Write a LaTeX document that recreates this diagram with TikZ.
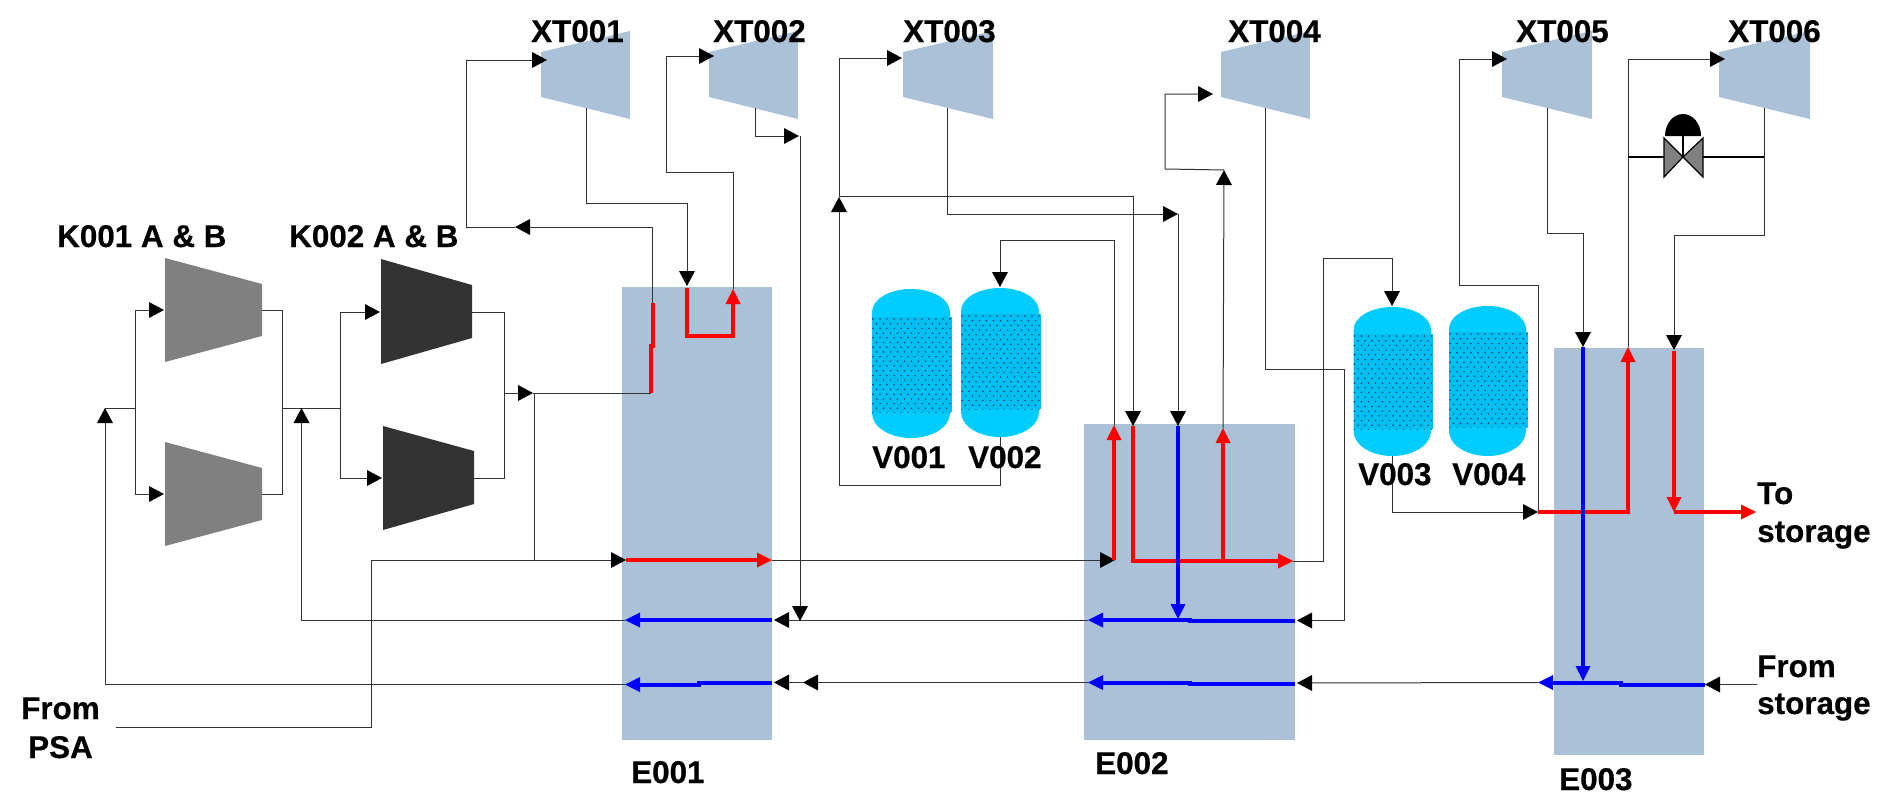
\documentclass[tikz,border=0pt]{standalone}
\usepackage{fontspec}
\setmainfont{Liberation Sans}[BoldFeatures={FakeBold=0.5}]
\usetikzlibrary{arrows.meta}
\definecolor{boxc}{HTML}{ABC1D7}
\definecolor{tankc}{HTML}{00CCFF}
\definecolor{dotbg}{HTML}{00BFF2}
\definecolor{dotc}{HTML}{00405F}
\definecolor{gc}{HTML}{808080}
\definecolor{dc}{HTML}{333333}
\definecolor{pipec}{HTML}{333333}
\definecolor{hot}{HTML}{FF0000}
\definecolor{cold}{HTML}{0000FF}
\tikzset{
  bk/.tip={Triangle[length=15pt,width=16pt,line width=0pt,fill=black,color=black]},
  ct/.tip={Triangle[length=15pt,width=15pt,line width=0pt]},
  pipe/.style={draw=pipec,line width=1pt},
  hotline/.style={draw=hot,line width=4pt,miter limit=3},
  coldline/.style={draw=cold,line width=4pt,miter limit=3},
  lbl/.style={font=\fontsize{31.4}{31.4}\selectfont\bfseries,inner sep=0pt,anchor=base west,text=black},
  hx/.style={fill=boxc,draw=none},
}
% name, x left, x right, y left top, y right top, y right bottom, y left bottom, colour
\newcommand\machine[8]{%
  \fill[#8] (#2,#4) -- (#3,#5) -- (#3,#6) -- (#2,#7) -- cycle;
}
% name, x left, x right, y top, y bottom, dots top, dots bottom
\newcommand\vessel[7]{%
  \pgfmathsetmacro\vr{(#3-#2)/2}%
  \pgfmathsetmacro\vt{#4+23}%
  \pgfmathsetmacro\vb{#5-25}%
  \fill[tankc] (#2,\vt) arc[start angle=180,end angle=0,x radius=\vr pt,y radius=23pt]
     -- (#3,\vb) arc[start angle=0,end angle=-180,x radius=\vr pt,y radius=25pt] -- cycle;
  \begin{scope}
    \clip (#2,#6) rectangle (#3+2,#7);
    \fill[dotbg] (#2,#6) rectangle (#3+2,#7);
    \foreach \r in {0,...,21}{%
      \pgfmathsetmacro\dy{#6+2+\r*4.7}%
      \pgfmathsetmacro\off{mod(\r,2)*3.5}%
      \foreach \c in {0,...,12}{%
        \fill[dotc] ({#2+1+\off+\c*7},\dy) circle (0.85pt);
      }
    }
  \end{scope}
}
\begin{document}
\begin{tikzpicture}[x=1pt,y=-1pt]
\useasboundingbox (0,0) rectangle (1882,795);
% heat exchangers
\fill[hx] (622,287) rectangle (772,740);
\fill[hx] (1084,424) rectangle (1295,740);
\fill[hx] (1554,348) rectangle (1704,755);
\coordinate (E1hotin) at (626,560);
\coordinate (E1hotout) at (772,560);
\coordinate (E1c1in) at (774,620);
\coordinate (E1c1out) at (625,620);
\coordinate (E1c2in) at (774,682.5);
\coordinate (E1c2out) at (625,684.5);
\coordinate (E2hot1in) at (1115,560);
\coordinate (E2hot1out) at (1114,425);
\coordinate (E2hot2in) at (1133,426);
\coordinate (E2hot2out) at (1293,561);
\coordinate (E2hot3out) at (1223,428);
\coordinate (E2cin) at (1178,426);
\coordinate (E2c1in) at (1297,620.5);
\coordinate (E2c1out) at (1088,620);
\coordinate (E2c2in) at (1297,683);
\coordinate (E2c2out) at (1088,682.5);
\coordinate (E3hot1in) at (1538,512);
\coordinate (E3hot1out) at (1628,347);
\coordinate (E3hot2in) at (1674,351);
\coordinate (E3cin) at (1583,347);
\coordinate (E3c2in) at (1705,684.5);
\coordinate (E3c2out) at (1538,682.5);
% machines
\machine{K1A}{165}{262}{258}{284}{336}{362}{gc}
\machine{K1B}{165}{262}{442}{468}{520}{546}{gc}
\machine{K2A}{381}{472}{259}{285}{338}{364}{dc}
\machine{K2B}{383}{474}{426}{451}{504}{530}{dc}
\machine{XT1}{541}{630}{52}{31}{119}{97}{boxc}
\machine{XT2}{709}{798}{52}{31}{119}{97}{boxc}
\machine{XT3}{903}{993}{52}{31}{119}{97}{boxc}
\machine{XT4}{1221}{1310}{52}{31}{119}{97}{boxc}
\machine{XT5}{1502}{1592}{52}{31}{119}{97}{boxc}
\machine{XT6}{1719}{1810}{52}{31}{119}{97}{boxc}
\coordinate (K1Ain) at (164,310); \coordinate (K1Bin) at (164,494);
\coordinate (K1Aout) at (262,310); \coordinate (K1Bout) at (262,494);
\coordinate (K2Ain) at (380,312); \coordinate (K2Bin) at (382,478);
\coordinate (K2Aout) at (472,312); \coordinate (K2Bout) at (474,478);
\coordinate (XT1in) at (547,60); \coordinate (XT1out) at (586,108);
\coordinate (XT2in) at (714,56); \coordinate (XT2out) at (755,108);
\coordinate (XT3in) at (902,58); \coordinate (XT3out) at (947,108);
\coordinate (XT4in) at (1213,94); \coordinate (XT4out) at (1265,108);
\coordinate (XT5in) at (1507,59); \coordinate (XT5out) at (1547,108);
\coordinate (XT6in) at (1725,59); \coordinate (XT6out) at (1764,108);
% vessels
\vessel{V1}{872}{950}{289}{438}{317}{412}
\vessel{V2}{961}{1039}{288}{437}{314}{409}
\vessel{V3}{1353.5}{1431}{307}{456}{334}{429}
\vessel{V4}{1449}{1526}{306}{456}{332}{427}
\coordinate (V2top) at (1000,287); \coordinate (V2bot) at (1000,437);
\coordinate (V3top) at (1392,306); \coordinate (V3bot) at (1392,456);
% junctions
\coordinate (JK1in) at (135,408);
\coordinate (JK1out) at (282,408);
\coordinate (JK2in) at (340.5,408);
\coordinate (JK2out) at (504,393);
\coordinate (J1) at (533,393);
\coordinate (J2) at (534,560);
\coordinate (R1) at (105,408);
\coordinate (R2) at (301.5,408);
\coordinate (PSA) at (116,727);
\coordinate (J3) at (839,197);
\coordinate (J4) at (1178,214);
\coordinate (J5) at (1224,170);
\coordinate (J6) at (515,227);
\coordinate (J7) at (799,136);
\coordinate (J8) at (803,682.5);
\coordinate (Sto) at (1756,512);
\coordinate (Sfrom) at (1757,684.5);
% --- utility lines
\draw[pipe,-{bk}] (JK1in) |- (K1Ain);
\draw[pipe,-{bk}] (JK1in) |- (K1Bin);
\draw[pipe] (K1Aout) -| (JK1out);
\draw[pipe] (K1Bout) -| (JK1out);
\draw[pipe] (R1) -- (JK1in);
\draw[pipe] (JK1out) -- (JK2in);
\draw[pipe,-{bk}] (JK2in) |- (K2Ain);
\draw[pipe,-{bk}] (JK2in) |- (K2Bin);
\draw[pipe] (K2Aout) -| (JK2out);
\draw[pipe] (K2Bout) -| (JK2out);
\draw[pipe,-{bk}] (JK2out) -- (J1);
\draw[pipe] (J1) -- (651,393);
\draw[pipe] (534,393) -- (J2);
\draw[pipe,-{bk}] (PSA) -| (371,560) -- (E1hotin);
\draw[pipe,-{bk}] (E1hotout) -- (E2hot1in);
\draw[pipe,-{bk}] (E1c1out) -| (R2);
\draw[pipe,-{bk}] (E1c2out) -| (R1);
\draw[pipe,-{bk}] (E2c1out) -- (E1c1in);
\draw[pipe,-{bk}] (E2c2out) -- (J8);
\draw[pipe,-{bk}] (J8) -- (E1c2in);
\draw[pipe,-{bk}] (XT2out) |- (J7);
\draw[pipe,-{bk}] (800,136) -- (800,621);
% XT001
\draw[pipe,-{bk}] (652.5,303) |- (J6);
\draw[pipe,-{bk}] (J6) -- (466,227) |- (XT1in);
\draw[pipe,-{bk}] (XT1out) |- (687,203) -- (687,286);
% XT002
\draw[pipe,-{bk}] (733,289) |- (666,172) |- (XT2in);
% XT003 / V001 V002
\draw[pipe,-{bk}] (V2bot) |- (839,485) -- (J3);
\draw[pipe,-{bk}] (J3) |- (XT3in);
\draw[pipe,-{bk}] (839,196) -| (E2hot2in);
\draw[pipe,-{bk}] (XT3out) |- (J4);
\draw[pipe,-{bk}] (1178,214) -- (E2cin);
\draw[pipe,-{bk}] (E2hot1out) |- (1000,240) -- (V2top);
% XT004
\draw[pipe,-{bk}] (E2hot3out) -- (J5);
\draw[pipe,-{bk}] (1224,170) -- (1165,169) |- (XT4in);
\draw[pipe,-{bk}] (XT4out) |- (1344,369) |- (E2c1in);
\draw[pipe,-{bk}] (E2hot2out) -| (1323,258) -| (V3top);
% XT005 XT006
\draw[pipe,-{bk}] (V3bot) |- (E3hot1in);
\draw[pipe,-{bk}] (1538,512) |- (1459,285) |- (XT5in);
\draw[pipe,-{bk}] (E3hot1out) |- (XT6in);
\draw[pipe,-{bk}] (XT5out) |- (1583,233) -- (E3cin);
\draw[pipe,-{bk}] (XT6out) |- (1674,235) -- (1674,350);
\draw[pipe,-{bk}] (E3c2out) -- (E2c2in);
\draw[pipe,-{bk}] (Sfrom) -- (E3c2in);
% --- valve
\coordinate (valve) at (1683,157);
\draw[black,line width=2.5pt] (1628,157) -- (1664,157);
\draw[black,line width=2.5pt] (1703,157) -- (1764,157);
\draw[black,line width=1.5pt] (1683,136) -- (valve);
\draw[black,line width=1.2pt,fill=gc] (1664,138) -- (valve) -- (1664,177) -- cycle;
\draw[black,line width=1.2pt,fill=gc] (1703,138) -- (valve) -- (1703,177) -- cycle;
\fill[black] (1665,136) arc[start angle=180,end angle=0,x radius=18pt,y radius=22pt] -- cycle;
% --- hot streams
\draw[hotline] (653,303) -- (653,346) -- (651,346) -- (651,393);
\draw[hotline,-{ct}] (687,288) |- (733,336) -- (733,289);
\draw[hotline,-{ct}] (E1hotin) -- (E1hotout);
\draw[hotline,-{ct}] (1114,560) -- (E2hot1out);
\draw[hotline,-{ct}] (E2hot2in) |- (E2hot2out);
\draw[hotline,-{ct}] (1223,561) -- (E2hot3out);
\draw[hotline,-{ct}] (E3hot1in) -| (E3hot1out);
\draw[hotline,-{ct}] (E3hot2in) -- (1674,512);
\draw[hotline,-{ct}] (1674,512) -- (Sto);
% --- cold streams
\draw[coldline,-{ct}] (772,620) -- (E1c1out);
\draw[coldline,-{ct}] (772,682.5) -- (699,682.5) -- (699,684.5) -- (E1c2out);
\draw[coldline,-{ct}] (1295,621) -- (1190,621) -- (1190,620) -- (E2c1out);
\draw[coldline,-{ct}] (1295,684) -- (1190,684) -- (1190,682.5) -- (E2c2out);
\draw[coldline,-{ct}] (E2cin) -- (1178,619);
\draw[coldline,-{ct}] (E3c2in) -- (1621,684.5) -- (1621,682.5) -- (E3c2out);
\draw[coldline,-{ct}] (E3cin) -- (1583,681);
% --- labels
\node[lbl] (tK1) at (57,247) {K001 A \& B};
\node[lbl] (tK2) at (289,247) {K002 A \& B};
\node[lbl] (tX1) at (531,42) {XT001};
\node[lbl] (tX2) at (713,42) {XT002};
\node[lbl] (tX3) at (903,42) {XT003};
\node[lbl] (tX4) at (1228,42) {XT004};
\node[lbl] (tX5) at (1516,42) {XT005};
\node[lbl] (tX6) at (1728,42) {XT006};
\node[lbl] (tV1) at (872,468) {V001};
\node[lbl] (tV2) at (968,468) {V002};
\node[lbl] (tV3) at (1358,485) {V003};
\node[lbl] (tV4) at (1452,485) {V004};
\node[lbl] (tE1) at (631,783) {E001};
\node[lbl] (tE2) at (1095,774) {E002};
\node[lbl] (tE3) at (1559,790) {E003};
\node[lbl] (tPa) at (21,719) {From};
\node[lbl] (tPb) at (28,758) {PSA};
\node[lbl] (tTa) at (1757,504) {To};
\node[lbl] (tTb) at (1757,542) {storage};
\node[lbl] (tFa) at (1757,677) {From};
\node[lbl] (tFb) at (1757,714) {storage};
\end{tikzpicture}
\end{document}
